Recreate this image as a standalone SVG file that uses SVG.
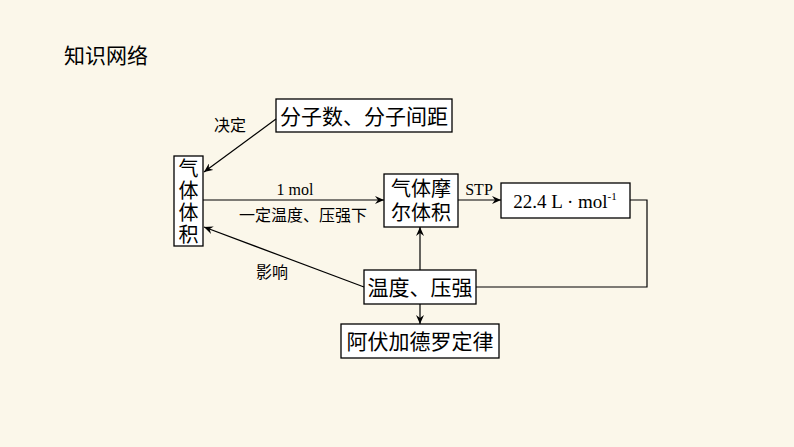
<svg xmlns="http://www.w3.org/2000/svg" width="794" height="447" viewBox="0 0 794 447">
<style>
.b{fill:#fff;stroke:#000;stroke-width:1.3}
.t{font-family:"Liberation Serif","Noto Sans CJK SC",serif;fill:#000}
.l{stroke:#000;stroke-width:1.2;fill:none}
</style>
<defs><marker id="a" markerWidth="10" markerHeight="8" refX="9" refY="4" orient="auto" markerUnits="userSpaceOnUse"><path d="M0,0 L9,4 L0,8 L3,4 Z" fill="#000"/></marker></defs>
<rect width="794" height="447" fill="#FBF7EA"/>
<text x="64" y="63" font-size="21" font-family="Noto Sans CJK SC,sans-serif">知识网络</text>
<g id="n1"><rect class="b" x="276" y="99" width="176" height="33"/><text class="t" x="364" y="124" font-size="21" text-anchor="middle">分子数、分子间距</text></g>
<g id="n2"><rect class="b" x="174" y="156" width="29" height="90"/><text class="t" font-size="20" text-anchor="middle"><tspan x="188.5" y="176">气</tspan><tspan x="188.5" y="198">体</tspan><tspan x="188.5" y="220">体</tspan><tspan x="188.5" y="242">积</tspan></text></g>
<g id="n3"><rect class="b" x="384" y="174" width="74" height="53"/><text class="t" font-size="20" text-anchor="middle"><tspan x="421" y="196">气体摩</tspan><tspan x="421" y="220">尔体积</tspan></text></g>
<g id="n4"><rect class="b" x="501" y="183" width="129" height="35"/><text class="t" x="565" y="208" font-size="19" text-anchor="middle">22.4 L · mol<tspan font-size="11" dy="-8">-1</tspan></text></g>
<g id="n5"><rect class="b" x="364" y="270" width="112" height="34"/><text class="t" x="420" y="295" font-size="21" text-anchor="middle">温度、压强</text></g>
<g id="n6"><rect class="b" x="341" y="324" width="158" height="34"/><text class="t" x="420" y="349" font-size="21" text-anchor="middle">阿伏加德罗定律</text></g>
<g id="edges">
<line class="l" x1="276" y1="119" x2="204" y2="172" marker-end="url(#a)"/>
<line class="l" x1="203" y1="200" x2="384" y2="200" marker-end="url(#a)"/>
<line class="l" x1="458" y1="200" x2="501" y2="200" marker-end="url(#a)"/>
<polyline class="l" points="630,200 647,200 647,287 476,287"/>
<line class="l" x1="420" y1="270" x2="420" y2="227" marker-end="url(#a)"/>
<line class="l" x1="420" y1="304" x2="420" y2="324" marker-end="url(#a)"/>
<line class="l" x1="364" y1="287" x2="204" y2="227" marker-end="url(#a)"/>
<text class="t" x="214" y="131" font-size="16">决定</text>
<text class="t" x="295" y="195" font-size="16" text-anchor="middle">1 mol</text>
<text class="t" x="303" y="221" font-size="16" text-anchor="middle">一定温度、压强下</text>
<text class="t" x="479" y="195" font-size="16" text-anchor="middle">STP</text>
<text class="t" x="256" y="278" font-size="16">影响</text>
</g>
</svg>
